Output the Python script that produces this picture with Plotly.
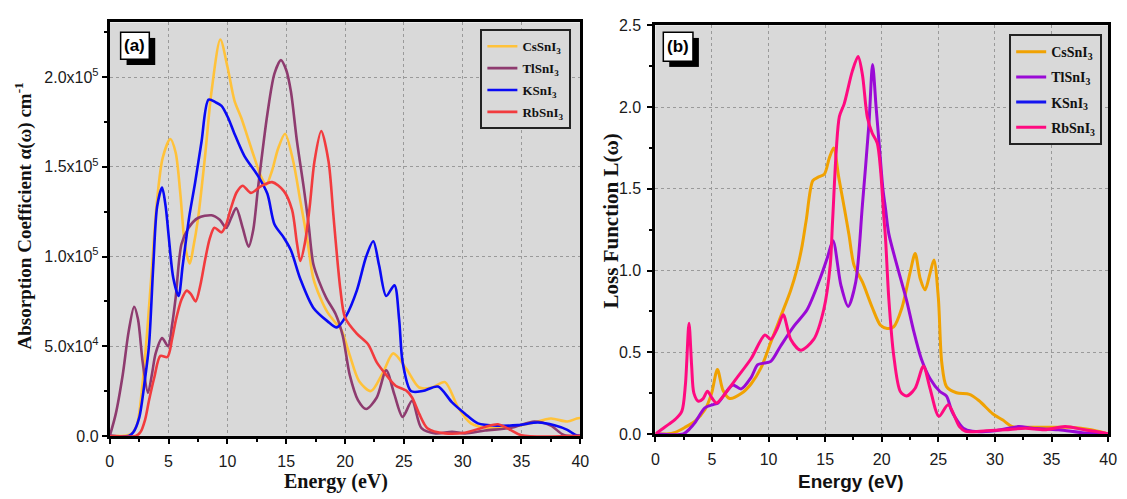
import numpy as np
import plotly.graph_objects as go

W, H = 1127, 499

# ---------------- (a) absorption coefficient, in units of 1e3 cm^-1 ----------------
cs_a_E = [0, 1.2, 1.8, 2.3, 2.8, 3.2, 3.6, 4.0, 4.5, 5.15, 5.6, 6.0, 6.4, 6.8, 7.1, 7.5, 8.1, 8.65,
          9.4, 10.0, 10.6, 11.2, 11.7, 12.3, 12.9, 13.3, 13.8, 14.3, 14.9, 15.6, 16.2, 16.8, 17.3,
          17.9, 18.5, 19.2, 19.7, 20.4, 21.2, 22.2, 23.2, 24.1, 25.2, 26.3, 27.4, 28.5, 29.6, 30.7,
          32.4, 34.1, 35.8, 37.5, 38.9, 39.7, 40]
cs_a_v = [0, 0, 1, 6, 30, 60, 95, 130, 155, 165.5, 158, 135, 106, 96, 105, 121, 156, 192,
          221, 206, 187, 177, 167, 155, 144, 140, 148, 160, 168.5, 153, 131, 109, 88,
          77, 69, 63, 59, 45, 30.5, 25, 35, 46, 37.5, 27, 27, 30, 16, 7,
          4.3, 5, 7, 9.7, 8, 9.7, 10]

tl_a_E = [0, 0.5, 1.1, 1.6, 2.07, 2.4, 2.8, 3.25, 3.6, 3.9, 4.45, 4.96, 5.3, 5.6, 6.1, 6.7, 7.5,
          8.65, 9.35, 9.9, 10.35, 10.75, 11.3, 11.8, 12.2, 12.6, 13.4, 14.0, 14.55, 15.0, 15.4,
          15.9, 16.5, 16.9, 17.3, 17.8, 18.4, 19.2, 19.8, 20.4, 21.1, 21.8, 22.7, 23.5, 24.2,
          24.9, 25.7, 26.5, 27.7, 29.1, 30.2, 31.9, 34.1, 36.1, 37.5, 38.6, 40]
tl_a_v = [0, 12, 34, 58, 72, 65, 41, 24, 35, 46, 54.5, 50, 62, 77, 107, 116, 121.5,
          123, 120.5, 116, 122, 127, 116, 105.5, 115, 138, 179.5, 202, 209.5, 204, 192,
          165, 138, 118, 96, 86, 77, 68, 56, 34, 20, 15, 21.4, 36.6, 23,
          10.6, 19.6, 4.3, 1.4, 2.3, 1.4, 3, 4.5, 8, 5.7, 0.5, 0]

k_a_E = [0, 1.6, 2.0, 2.5, 3.0, 3.33, 3.7, 4.03, 4.45, 4.75, 5.0, 5.4, 5.85, 6.2, 6.75, 7.25, 7.8,
         8.4, 9.0, 9.5, 10.05, 10.6, 11.45, 12.6, 13.4, 14.0, 14.8, 15.4, 16.2, 17.3, 18.5, 19.3,
         20.1, 21.0, 21.8, 22.4, 22.9, 23.5, 24.2, 24.6, 24.9, 25.6, 26.6, 27.9, 29.1, 30.2, 31.3,
         33.0, 34.7, 36.4, 37.8, 38.9, 39.6, 40]
k_a_v = [0, 0, 2, 10, 32, 50, 95, 128, 138.5, 128, 112, 88, 78, 95, 122, 141, 164,
         187.5, 186, 184, 177.5, 168.5, 156, 145, 135, 118, 110.5, 103.5, 87.5, 71.5, 64, 60.5,
         67, 81, 100, 108.5, 95, 78, 84, 65, 41, 25, 25, 27.5, 18.7, 12.4, 7,
         5.7, 6, 7.5, 6, 3.4, 0.5, 0]

rb_a_E = [0, 2.2, 2.6, 3.0, 3.33, 3.8, 4.3, 4.9, 5.3, 5.6, 6.1, 6.55, 6.9, 7.3, 7.7, 8.1, 8.5,
          8.9, 9.5, 9.9, 10.3, 10.8, 11.3, 12.0, 12.8, 13.8, 14.8, 15.5, 15.9, 16.2, 16.6, 17.0,
          17.4, 17.98, 18.6, 19.0, 19.2, 19.6, 20.0, 21.0, 21.97, 22.7, 23.5, 24.3, 25.2, 25.7,
          26.3, 27.0, 28.5, 30.2, 31.9, 33.0, 34.1, 35.0, 40]
rb_a_v = [0, 0, 2, 9, 19.6, 33, 44.6, 44, 54, 64, 76, 81, 79, 75, 84, 98, 110,
          116, 113.5, 118, 127, 136, 139.5, 135.5, 139, 141.5, 136.5, 126, 108, 97.5, 108, 128,
          153, 170, 153, 124, 109, 82, 66, 57, 51, 41, 34, 28, 25.3, 21.4,
          12.4, 4.3, 1.4, 1.8, 5, 6.5, 3.2, 0.3, 0]

# ---------------- (b) energy loss function ----------------
cs_b_E = [0, 1.0, 1.75, 2.6, 3.5, 4.37, 4.96, 5.48, 5.98, 6.56, 7.58, 8.45, 9.33, 10.2, 11.08,
          11.95, 12.54, 12.97, 13.33, 13.91, 14.35, 14.93, 15.37, 15.75, 16.2, 16.7, 17.1, 17.56,
          18.29, 19.16, 19.89, 20.47, 21.06, 21.79, 22.51, 22.95, 23.4, 23.83, 24.25, 24.61,
          25.0, 25.3, 25.72, 26.6, 27.75, 28.6, 29.8, 30.7, 31.55, 33.3, 35.0, 36.7, 38.5,
          39.7, 40]
cs_b_v = [0, 0, 0.01, 0.04, 0.079, 0.148, 0.247, 0.395, 0.266, 0.217, 0.247, 0.306, 0.404, 0.562,
          0.72, 0.878, 1.016, 1.154, 1.31, 1.55, 1.57, 1.59, 1.69, 1.75, 1.57, 1.38, 1.22, 1.03,
          0.93, 0.774, 0.665, 0.646, 0.656, 0.774, 0.99, 1.104, 0.95, 0.882, 0.98, 1.065,
          0.833, 0.439, 0.29, 0.252, 0.242, 0.203, 0.124, 0.085, 0.045, 0.041, 0.041, 0.041,
          0.026, 0.006, 0]

tl_b_E = [0, 2.48, 3.0, 3.5, 4.37, 5.1, 5.54, 6.4, 6.85, 7.58, 8.45, 9.04, 9.62, 10.2, 11.08,
          12.24, 13.4, 14.58, 15.2, 15.69, 16.39, 17.03, 17.7, 18.29, 18.87, 19.19, 19.5, 19.8,
          20.1, 20.33, 20.62, 21.35, 22.22, 22.8, 23.5, 24.26, 25.14, 25.72, 26.16, 26.5, 27.2,
          28.0, 30.0, 32.1, 33.3, 35.6, 37.9, 40]
tl_b_v = [0, 0, 0.03, 0.07, 0.16, 0.18, 0.19, 0.27, 0.30, 0.276, 0.345, 0.424, 0.434, 0.444,
          0.54, 0.66, 0.76, 0.957, 1.08, 1.183, 0.911, 0.78, 0.93, 1.40, 1.9, 2.26, 2.0, 1.75,
          1.5, 1.38, 1.226, 1.03, 0.81, 0.636, 0.459, 0.34, 0.26, 0.232, 0.144, 0.1, 0.035,
          0.016, 0.02, 0.045, 0.035, 0.026, 0.006, 0]

rb_b_E = [0, 0.6, 1.2, 1.75, 2.33, 2.65, 2.97, 3.2, 3.4, 3.8, 4.2, 4.6, 5.0, 5.4, 6.2, 7.0, 8.45,
          9.68, 10.2, 10.8, 11.3, 11.95, 12.83, 14.0, 14.87, 15.45, 15.66, 16.25, 16.68, 17.4,
          17.91, 18.29, 18.72, 19.16, 19.6, 19.9, 20.18, 20.33, 20.62, 21.06, 21.64, 22.2, 22.95,
          23.68, 24.26, 25.05, 25.87, 26.86, 27.4, 29.2, 30.9, 32.7, 34.4, 36.2, 37.9, 39.7, 40]
rb_b_v = [0, 0.03, 0.06, 0.089, 0.138, 0.3, 0.677, 0.42, 0.25, 0.2, 0.215, 0.262, 0.22, 0.19,
          0.25, 0.325, 0.46, 0.606, 0.58, 0.65, 0.73, 0.58, 0.513, 0.58, 0.76, 1.035, 1.31, 1.94,
          2.02, 2.22, 2.31, 2.2, 1.94, 1.84, 1.78, 1.61, 1.33, 1.2, 0.83, 0.478, 0.26, 0.232,
          0.28, 0.415, 0.28, 0.108, 0.179, 0.045, 0.016, 0.02, 0.026, 0.035, 0.026, 0.045,
          0.026, 0.006, 0]

names = ["CsSnI<sub>3</sub>", "TlSnI<sub>3</sub>", "KSnI<sub>3</sub>", "RbSnI<sub>3</sub>"]
colors_a = ["#FFC23A", "#8E3B6F", "#0A0AF5", "#F23B3E"]
colors_b = ["#F0A202", "#9A0AD6", "#1414F0", "#FF0A80"]

y_ticks_a = [0, 5e4, 1e5, 1.5e5, 2e5]
y_text_a = ["0.0", "5.0x10<sup>4</sup>", "1.0x10<sup>5</sup>", "1.5x10<sup>5</sup>", "2.0x10<sup>5</sup>"]

fig = go.Figure()

series_a = [(cs_a_E, cs_a_v), (tl_a_E, tl_a_v), (k_a_E, k_a_v), (rb_a_E, rb_a_v)]
for i, ((e, v), nm, c) in enumerate(zip(series_a, names, colors_a)):
    fig.add_trace(go.Scatter(x=e, y=np.array(v) * 1e3, name=f"<b>{nm}</b>", mode="lines",
                             line=dict(color=c, width=2.6, shape="spline", smoothing=0.8),
                             xaxis="x", yaxis="y", legend="legend", legendgroup=f"a{i}"))

# KSnI3 has no loss-function curve in panel (b); it is listed in the legend only
series_b = [(cs_b_E, cs_b_v), (tl_b_E, tl_b_v), ([None], [None]), (rb_b_E, rb_b_v)]
for i, ((e, v), nm, c) in enumerate(zip(series_b, names, colors_b)):
    fig.add_trace(go.Scatter(x=e, y=v, name=f"<b>{nm}</b>", mode="lines",
                             line=dict(color=c, width=3, shape="spline", smoothing=0.8),
                             xaxis="x2", yaxis="y2", legend="legend2", legendgroup=f"b{i}"))


def px_x(p):
    """Pixel column -> paper fraction."""
    return p / W


def px_y(p):
    """Pixel row (from top) -> paper fraction."""
    return 1 - p / H


tick_font = dict(family="Liberation Sans, Arial, sans-serif", size=16, color="#1a1a1a")
minor_common = dict(ticks="outside", ticklen=3, tickwidth=2, tickcolor="black", showgrid=False)
axis_common = dict(showline=True, linecolor="black", linewidth=3, mirror=True,
                   ticks="outside", ticklen=5, tickwidth=2, tickcolor="black",
                   showgrid=True, gridcolor="#9a9a9a", griddash="dot", gridwidth=1,
                   zeroline=False, tickfont=tick_font)

legend_font = dict(family="Liberation Serif, Times New Roman, serif", size=13, color="#111")

fig.update_layout(
    width=W, height=H, margin=dict(l=0, r=0, t=0, b=0),
    paper_bgcolor="white", plot_bgcolor="#D9D9D9",
    xaxis=dict(**axis_common, domain=[px_x(107), px_x(583)], anchor="y", range=[0, 40], dtick=5,
               ticklabelstandoff=4, minor=dict(**minor_common, dtick=2.5)),
    yaxis=dict(**axis_common, domain=[px_y(443), px_y(15)], anchor="x", range=[0, 2.305e5],
               tickvals=y_ticks_a, ticktext=y_text_a,
               minor=dict(**minor_common, dtick=2.5e4)),
    xaxis2=dict(**axis_common, domain=[px_x(659), px_x(1117)], anchor="y2", range=[0, 40], dtick=5,
                ticklabelstandoff=4, minor=dict(**minor_common, dtick=2.5)),
    yaxis2=dict(**axis_common, domain=[px_y(441), px_y(18)], anchor="x2", range=[0, 2.5],
                dtick=0.5, tickformat=".1f", ticklabelstandoff=3,
                minor=dict(**minor_common, dtick=0.25)),
    legend=dict(x=px_x(574), y=px_y(22), xanchor="right", yanchor="top",
                bgcolor="#D9D9D9", bordercolor="#222", borderwidth=2, itemwidth=30,
                tracegroupgap=2, font=legend_font),
    legend2=dict(x=px_x(1111), y=px_y(27), xanchor="right", yanchor="top",
                 bgcolor="#D9D9D9", bordercolor="#222", borderwidth=2, itemwidth=30,
                 tracegroupgap=4, font=dict(legend_font, size=14)),
    showlegend=True,
)

serif_bold = dict(family="Liberation Serif, Times New Roman, serif", color="#111")
sans_bold = dict(family="Liberation Sans, Arial, sans-serif", color="#111")

annotations = [
    dict(text="<b>Absorption Coefficient α(ω) cm<sup>-1</sup></b>", x=px_x(20), y=px_y(215),
         textangle=-90, font=dict(serif_bold, size=19)),
    dict(text="<b>Energy (eV)</b>", x=px_x(336), y=px_y(490), font=dict(serif_bold, size=20)),
    dict(text="<b>Loss Function L(ω)</b>", x=px_x(614), y=px_y(220), textangle=-90,
         font=dict(serif_bold, size=21)),
    dict(text="<b>Energy (eV)</b>", x=px_x(857), y=px_y(490), font=dict(sans_bold, size=19)),
    dict(text="<b>(a)</b>", x=px_x(132.5), y=px_y(39), font=dict(sans_bold, size=17, color="black")),
    dict(text="<b>(b)</b>", x=px_x(681.7), y=px_y(40), font=dict(sans_bold, size=17, color="black")),
]
for a in annotations:
    a.update(xref="paper", yref="paper", showarrow=False, xanchor="center", yanchor="middle")
fig.update_layout(annotations=annotations)

# panel label boxes with drop shadow
shapes = []
for (x0, y0, x1, y1) in [(118, 25, 147, 53), (667, 25, 697, 55)]:
    shapes.append(dict(type="rect", xref="paper", yref="paper", layer="above",
                       x0=px_x(x0 + 6), x1=px_x(x1 + 6), y0=px_y(y1 + 6), y1=px_y(y0 + 6),
                       fillcolor="black", line=dict(width=0)))
    shapes.append(dict(type="rect", xref="paper", yref="paper", layer="above",
                       x0=px_x(x0), x1=px_x(x1), y0=px_y(y1), y1=px_y(y0),
                       fillcolor="white", line=dict(color="black", width=1.5)))
fig.update_layout(shapes=shapes)

fig.write_html("out.html")
